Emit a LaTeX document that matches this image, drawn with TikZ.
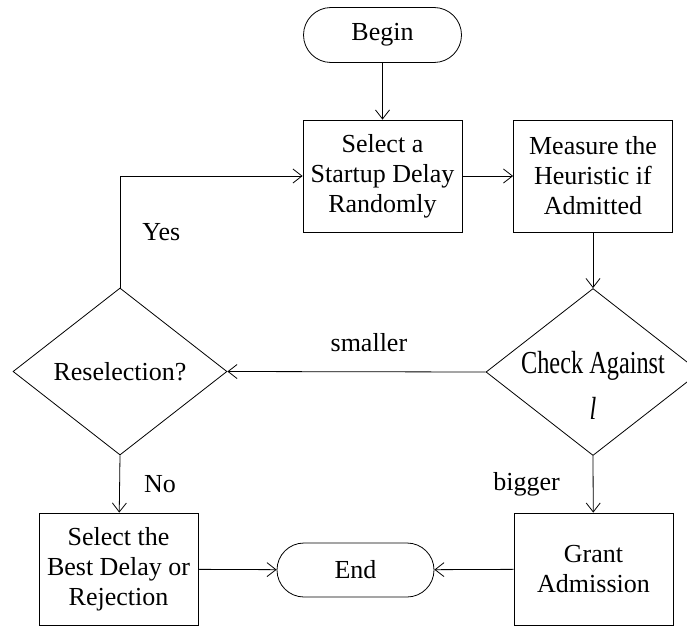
\documentclass[tikz,border=0pt]{standalone}
\usepackage{fontspec}
\setmainfont{Liberation Serif}
\newfontfamily\narrowfont[FakeStretch=0.76]{Liberation Serif}
\usetikzlibrary{shapes.geometric,shapes.misc,arrows.meta}

\tikzset{
    block/.style={draw, rectangle, minimum width=159pt, minimum height=112pt, align=center, inner sep=0pt},
    terminal/.style={draw, rounded rectangle, minimum width=158pt, minimum height=55pt, inner sep=0pt},
    decision/.style={draw, diamond, minimum width=214pt, minimum height=167pt, inner sep=0pt},
    flow/.style={-{Straight Barb[length=9pt,width=14pt]}},
    tag/.style={inner sep=0pt}
}

\begin{document}
\begin{tikzpicture}[x=1pt, y=-1pt, line width=0.8pt, font=\fontsize{26}{30}\selectfont]

    \useasboundingbox (0,0) rectangle (687,626);

    % Start and the random pick
    \node[terminal] (begin) at (382.5,35) {Begin};
    \node[block] (select) at (382.5,176) {Select a\\Startup Delay\\Randomly};
    \node[block] (measure) at (593,176) {Measure the\\Heuristic if\\Admitted};

    % Decisions
    \node[decision, label={[align=center, yshift=-13pt, font=\narrowfont\fontsize{32}{46}\selectfont]center:{Check Against\\\textit{l}}}] (check) at (593,372) {};
    \node[decision, label={center:Reselection?}] (resel) at (120,371.5) {};

    % Final steps
    \node[block] (best) at (118.5,569) {Select the\\Best Delay or\\Rejection};
    \node[block] (grant) at (593.5,569) {Grant\\Admission};
    \node[terminal, minimum width=157pt, minimum height=54pt] (end) at (355.5,570) {End};

    % Connectors
    \draw[flow] (begin) -- (select);
    \draw[flow] (select) -- (measure);
    \draw[flow] (measure) -- (check.north);
    \draw[flow] (check.west) -- node[tag, pos=0.452, above=20pt] {smaller} (resel.east);
    \draw[flow] (resel.north) |- node[tag, pos=0.25, right=22pt] {Yes} (select.west);
    \draw[flow] (resel.south) -- node[tag, midway, right=24pt] {No} (best);
    \draw[flow] (check.south) -- node[tag, midway, left=33pt] {bigger} (grant);
    \draw[flow] (best) -- (end);
    \draw[flow] (grant) -- (end);

\end{tikzpicture}
\end{document}
